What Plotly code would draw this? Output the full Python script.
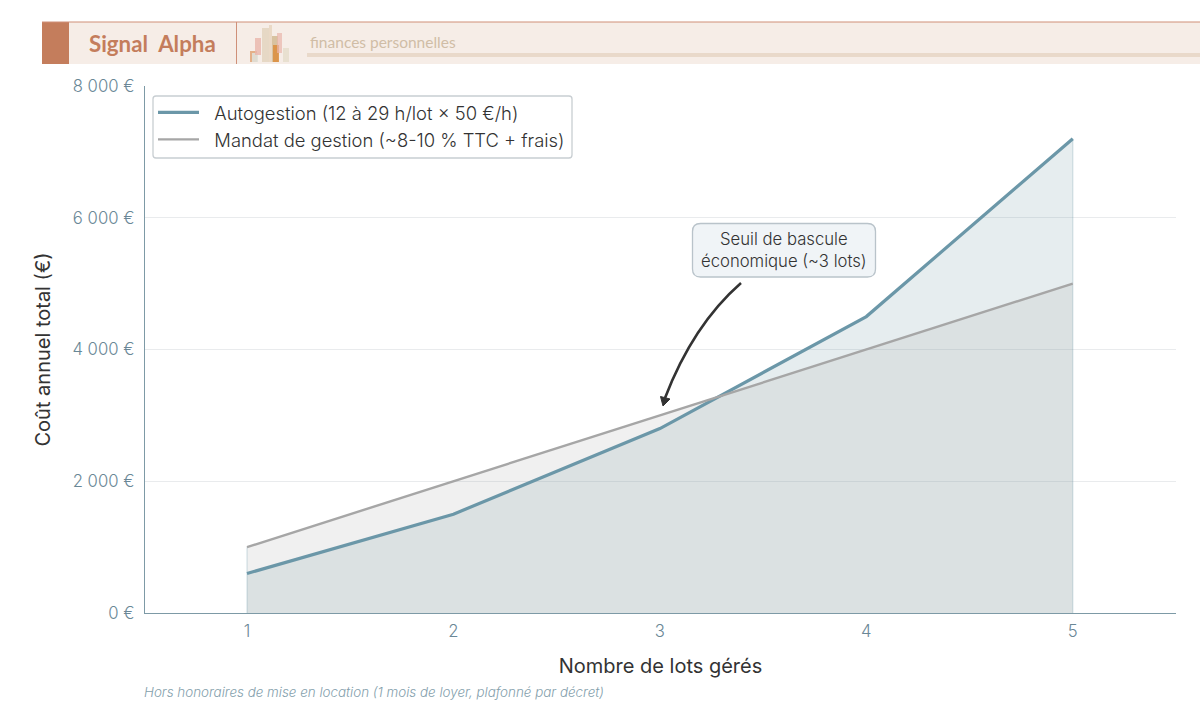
import plotly.graph_objects as go

lots = [1, 2, 3, 4, 5]
autogestion = [600, 1500, 2800, 4500, 7200]
mandat = [1000, 2000, 3000, 4000, 5000]
y_ticks = [0, 2000, 4000, 6000, 8000]
y_labels = ["0 €", "2 000 €", "4 000 €", "6 000 €", "8 000 €"]

BLUE = "#6b97a8"
GREY = "#a6a6a6"
TICK = "#6a8796"
FONT = "Inter, Roboto, sans-serif"

W, H = 1200, 721
L, R, T, B = 145, 1176, 86, 613


def px(x):
    return (x - L) / (R - L)


def py(y):
    return (B - y) / (B - T)


def rect(x0, y0, x1, y1, fill, opacity=1):
    return dict(type="rect", xref="paper", yref="paper", x0=px(x0), x1=px(x1), y0=py(y0), y1=py(y1),
                fillcolor=fill, opacity=opacity, line_width=0, layer="below")


def rounded(x0, y0, x1, y1, r, fill, border):
    path = (f"M {px(x0 + r)} {py(y0)} L {px(x1 - r)} {py(y0)} Q {px(x1)} {py(y0)} {px(x1)} {py(y0 + r)} "
            f"L {px(x1)} {py(y1 - r)} Q {px(x1)} {py(y1)} {px(x1 - r)} {py(y1)} "
            f"L {px(x0 + r)} {py(y1)} Q {px(x0)} {py(y1)} {px(x0)} {py(y1 - r)} "
            f"L {px(x0)} {py(y0 + r)} Q {px(x0)} {py(y0)} {px(x0 + r)} {py(y0)} Z")
    return dict(type="path", xref="paper", yref="paper", path=path, fillcolor=fill,
                line=dict(color=border, width=1.3), layer="above")


fig = go.Figure()

# fills first, lines on top so that the legend only shows lines
fig.add_trace(go.Scatter(x=lots, y=autogestion, fill="tozeroy", mode="none", fillcolor="rgba(100,145,155,0.16)",
                         showlegend=False, hoverinfo="skip"))
fig.add_trace(go.Scatter(x=lots, y=mandat, fill="tozeroy", mode="none", fillcolor="rgba(166,166,166,0.17)",
                         showlegend=False, hoverinfo="skip"))

# thin edges on both sides of the areas
for i in (0, -1):
    fig.add_trace(go.Scatter(x=[lots[i], lots[i]], y=[0, max(autogestion[i], mandat[i])], mode="lines",
                             line=dict(color="rgba(107,151,168,0.22)", width=1.5),
                             showlegend=False, hoverinfo="skip"))

fig.add_trace(go.Scatter(x=lots, y=autogestion, mode="lines", name="\u00a0\u00a0Autogestion (12 à 29 h/lot × 50 €/h)",
                         line=dict(color=BLUE, width=3.2)))
fig.add_trace(go.Scatter(x=lots, y=mandat, mode="lines", name="\u00a0\u00a0Mandat de gestion (~8-10 % TTC + frais)",
                         line=dict(color=GREY, width=2.4)))

shapes = [
    rect(42, 22, W, 64, "#f6ede7"),
    rect(42, 22, 69, 64, "#c47d5c"),
    rect(42, 21.5, W, 22.5, "#cf9079"),
    rect(236, 22, 237, 64, "#cf9079"),
    rect(307, 53, W, 57, "#e9d9ca"),
    # little skyline logo
    rect(250, 51, 257, 62, "#e0a070", 0.8),
    rect(252, 53, 258, 62, "#dfe0d8", 0.9),
    rect(255, 38, 261, 55, "#eab5ab", 0.8),
    rect(262, 28, 269, 62, "#e6d8c5"),
    rect(269, 25, 272, 62, "#ead9c6"),
    rect(272, 36, 278, 62, "#d8c2a0"),
    rect(273, 45, 279, 62, "#dc8d3c", 0.85),
    rect(277, 33, 282, 53, "#eab5ab", 0.7),
    rect(283, 48, 289, 62, "#e8e0d0"),
    # legend and callout boxes
    rounded(153, 96, 572, 158, 3, "rgba(255,255,255,0.9)", "#c8ced2"),
    rounded(692.5, 223.5, 875.5, 277, 8, "#f0f4f7", "#b9c3ca"),
    # curved arrow
    dict(type="path", xref="paper", yref="paper",
         path=f"M {px(741)} {py(283)} Q {px(693)} {py(325)} {px(665)} {py(398)}",
         line=dict(color="#333333", width=2.6), layer="above"),
    dict(type="path", xref="paper", yref="paper",
         path=f"M {px(663)} {py(406)} L {px(660.5)} {py(396.5)} L {px(670)} {py(399)} Z",
         fillcolor="#333333", line=dict(color="#333333", width=1), layer="above"),
]

annotations = [
    dict(text="<b>Signal  Alpha</b>", xref="paper", yref="paper", x=px(87), y=py(43), xanchor="left", yanchor="middle",
         showarrow=False, font=dict(family="Lato, sans-serif", size=22.3, color="#c47d5c")),
    dict(text="finances personnelles", xref="paper", yref="paper", x=px(308), y=py(42), xanchor="left", yanchor="middle",
         showarrow=False, font=dict(family="Lato, sans-serif", size=15.5, color="#d0bda6")),
    dict(text="Seuil de bascule<br>économique (~3 lots)", xref="paper", yref="paper", x=px(784), y=py(250),
         xanchor="center", yanchor="middle", showarrow=False, align="center",
         font=dict(family=FONT, size=16.7, color="#333333", weight=300)),
    dict(text="<i>Hors honoraires de mise en location (1 mois de loyer, plafonné par décret)</i>",
         xref="paper", yref="paper", x=px(142), y=py(692), xanchor="left", yanchor="middle", showarrow=False,
         font=dict(family=FONT, size=13.4, color="#84a0ac", weight=300)),
]

fig.update_layout(
    width=W,
    height=H,
    margin=dict(l=L, r=W - R, t=T, b=H - B),
    paper_bgcolor="white",
    plot_bgcolor="white",
    font=dict(family=FONT),
    shapes=shapes,
    annotations=annotations,
    legend=dict(x=px(153), y=py(94), xanchor="left", yanchor="top", bgcolor="rgba(0,0,0,0)", borderwidth=0,
                itemwidth=41, font=dict(size=18.4, color="#333333", weight=300)),
    xaxis=dict(range=[0.506, 5.5], tickvals=lots, showgrid=False, zeroline=False, showline=True, linecolor="#7d9aa6",
               linewidth=1.4, ticks="", ticklabelstandoff=3, tickfont=dict(size=16.7, color=TICK, weight=300),
               title=dict(text="Nombre de lots gérés", font=dict(size=20, color="#333333"), standoff=18)),
    yaxis=dict(range=[0, 8000], tickvals=y_ticks, ticktext=y_labels, showgrid=True, gridcolor="#e9ebed", gridwidth=1,
               zeroline=False, showline=True, linecolor="#7d9aa6", linewidth=1.4, ticks="", ticklabelstandoff=6,
               tickfont=dict(size=16.7, color=TICK, weight=300),
               title=dict(text="Coût annuel total (€)", font=dict(size=20, color="#333333"), standoff=16)),
)

fig.write_html("out.html", config={"displayModeBar": False}, post_script="document.body.style.margin = '0';")
